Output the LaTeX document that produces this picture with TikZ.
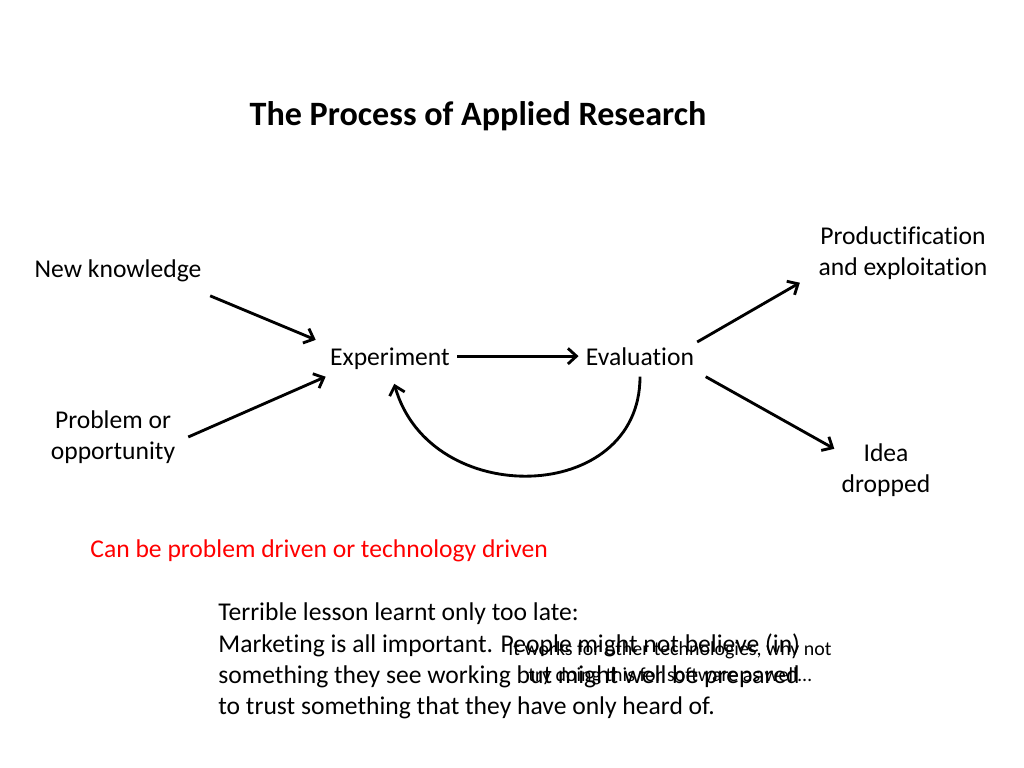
\documentclass[tikz,border=0pt]{standalone}
\usepackage{fontspec}
\setmainfont{Carlito}[Ligatures=NoCommon]
\usetikzlibrary{arrows.meta}

\tikzset{
  lbl/.style={inner sep=5pt, align=center, font=\fontsize{18}{22}\selectfont},
  oneline/.style={text height=12.5pt, text depth=4pt},
  arr/.style={line width=2pt, -{Straight Barb[length=6pt, width=11pt, line width=2pt]}}
}

\begin{document}
\begin{tikzpicture}[x=0.703125pt, y=-0.703125pt]
  \useasboundingbox (0,0) rectangle (1024,768);
  % title
  \node[font=\fontsize{24}{29}\selectfont\bfseries] (title) at (478,116) {The Process of Applied Research};
  % inputs and stages
  \node[lbl, oneline] (know) at (118,271) {New knowledge};
  \node[lbl] (prob) at (113,437) {Problem or\\opportunity};
  \node[lbl, oneline] (exp) at (390,359) {Experiment};
  \node[lbl, oneline] (eval) at (640,359) {Evaluation};
  \node[lbl] (prod) at (903,253) {Productification\\and exploitation};
  \node[lbl] (idea) at (886,470) {Idea\\dropped};
  % connectors
  \draw[arr] ([xshift=1pt,yshift=-4pt]know.south east) -- ([xshift=-5pt,yshift=0pt]exp.north west);
  \draw[arr] ([xshift=4pt]prob.east) -- ([xshift=2pt,yshift=1pt]exp.south west);
  \draw[arr] ([yshift=2pt]exp.east) -- ([yshift=2pt]eval.west);
  \draw[arr] ([xshift=-3pt,yshift=-1.5pt]eval.north east) -- ([xshift=-8pt,yshift=3pt]prod.south west);
  \draw[arr] ([xshift=3pt,yshift=1pt]eval.south east) -- ([yshift=-9pt]idea.north west);
  \draw[arr] ([yshift=1pt]eval.south) .. controls (640,505) and (430,510) .. ([xshift=3pt,yshift=-4pt]exp.south);
  % notes
  \node[lbl, text=red, anchor=west] (note) at (83,551) {Can be problem driven or technology driven};
  \node[lbl, align=left, anchor=west] (lesson) at (211,661) {Terrible lesson learnt only too late:\\Marketing is all important. People might not believe (in)\\something they see working but might well be prepared\\to trust something that they have only heard of.};
  \node[lbl, font=\fontsize{14}{18.3}\selectfont] (aside) at (670,663) {It works for other technologies, why not\\try doing this for software as well\dots};
\end{tikzpicture}
\end{document}
